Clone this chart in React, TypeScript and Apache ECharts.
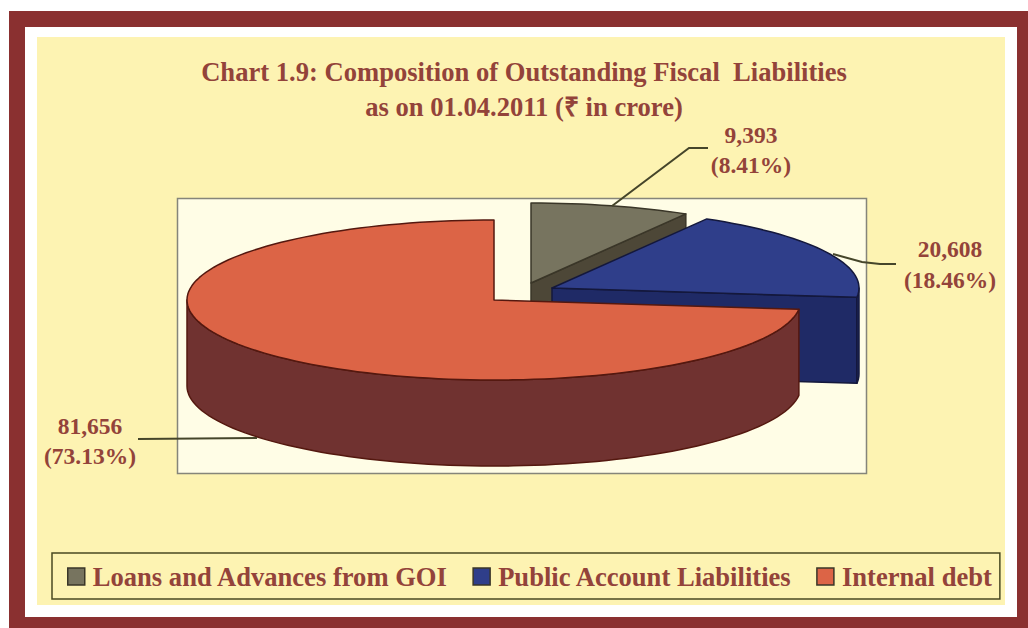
import React, { useEffect, useRef } from "react";
import * as echarts from "echarts";

// Fiscal liabilities, crore of rupees
const categories = ["Loans and Advances from GOI", "Public Account Liabilities", "Internal debt"];
const amounts = [9393, 20608, 81656];
const amountLabels = ["9,393", "20,608", "81,656"];
const topColors = ["#77745f", "#2f3e8a", "#dc6446"];
const wallColors = ["#4d4737", "#1f2a66", "#703230"];
const edgeColors = ["#3a3628", "#14183c", "#54180f"];

const TEXT = "#93433a";
const SERIF = '"Liberation Serif", serif';
const RX = 307;
const RY = 80;
const DEPTH = 86;
// Apex of each exploded slice on the page
const apexes = [[531, 283], [552, 288], [494, 300]];
const labelSpots = [[751, 135], [950, 249], [90, 426]];
const labelLeading = [30, 31, 30];
const leaders = [
  [[612, 206], [689, 148], [708, 148]],
  [[833, 254], [862, 262], [880, 264], [896, 264]],
  [[138, 439], [257, 438]],
];

const total = amounts.reduce((a, b) => a + b, 0);

function rim(i: number, deg: number, drop = 0): number[] {
  const r = (deg * Math.PI) / 180;
  return [apexes[i][0] + RX * Math.sin(r), apexes[i][1] - RY * Math.cos(r) + drop];
}

function arc(i: number, from: number, to: number, drop = 0): number[][] {
  const pts: number[][] = [];
  const steps = Math.max(2, Math.ceil(Math.abs(to - from) / 2));
  for (let s = 0; s <= steps; s++) pts.push(rim(i, from + ((to - from) * s) / steps, drop));
  return pts;
}

function sliceRenderer(i: number) {
  return (_params: unknown, api: any) => {
    const before = amounts.slice(0, i).reduce((a, b) => a + b, 0);
    const start = (before / total) * 360;
    const end = start + (api.value(0) / total) * 360;
    const apex = apexes[i];
    const solid = (points: number[][], fill: string) => ({
      type: "polygon",
      shape: { points },
      style: { fill, stroke: edgeColors[i], lineWidth: 1.5, lineJoin: "round" },
    });
    const children: any[] = [];

    // The cut face turned toward the viewer
    if (end < 180) {
      const p = rim(i, end);
      children.push(
        solid([apex, p, [p[0], p[1] + DEPTH], [apex[0], apex[1] + DEPTH]], wallColors[i]),
      );
    }
    // Outer wall, only the stretch on the near half of the rim
    const wallFrom = Math.max(start, 90);
    const wallTo = Math.min(end, 270);
    if (wallTo > wallFrom) {
      children.push(
        solid([...arc(i, wallFrom, wallTo), ...arc(i, wallTo, wallFrom, DEPTH)], wallColors[i]),
      );
    }
    children.push(solid([apex, ...arc(i, start, end)], topColors[i]));

    // Leader and value label
    children.push({
      type: "polyline",
      shape: { points: leaders[i] },
      style: { fill: "none", stroke: "#45452a", lineWidth: 2 },
    });
    const share = ((api.value(0) / total) * 100).toFixed(2);
    children.push({
      type: "text",
      style: {
        text: `${amountLabels[i]}\n(${share}%)`,
        x: labelSpots[i][0],
        y: labelSpots[i][1] - labelLeading[i] / 2,
        align: "center",
        fill: TEXT,
        font: `bold 23.5px ${SERIF}`,
        lineHeight: labelLeading[i],
      },
    });
    return { type: "group", children };
  };
}

export default function App() {
  const ref = useRef<HTMLDivElement>(null);

  useEffect(() => {
    document.body.style.margin = "0";
    const chart = echarts.init(ref.current!, null, { renderer: "svg" });
    chart.setOption({
      animation: false,
      backgroundColor: "#ffffff",
      title: {
        text: "Chart 1.9: Composition of Outstanding Fiscal  Liabilities\nas on 01.04.2011 (₹ in crore)",
        left: 519,
        top: 49,
        textAlign: "center",
        textStyle: {
          color: TEXT,
          fontFamily: SERIF,
          fontWeight: "bold",
          fontSize: 26.6,
          lineHeight: 35,
        },
      },
      legend: {
        left: 52,
        top: 553,
        padding: [10, 8, 9, 15],
        borderColor: "#4a4a22",
        borderWidth: 1.5,
        itemWidth: 17,
        itemHeight: 17,
        itemGap: 24,
        icon: "rect",
        selectedMode: false,
        itemStyle: { borderColor: "#3a3628", borderWidth: 1.5 },
        data: categories,
        textStyle: {
          color: TEXT,
          fontFamily: SERIF,
          fontWeight: "bold",
          fontSize: 26.6,
          padding: [0, 0, 0, 3],
        },
      },
      graphic: [
        { type: "rect", z: -10, shape: { x: 9, y: 11, width: 1019, height: 617 }, style: { fill: "#8a3030" } },
        { type: "rect", z: -9, shape: { x: 25, y: 27, width: 992, height: 590 }, style: { fill: "#ffffff" } },
        { type: "rect", z: -8, shape: { x: 37, y: 37, width: 968, height: 568 }, style: { fill: "#fdf3b2" } },
        {
          type: "rect",
          z: -7,
          shape: { x: 177.5, y: 198.5, width: 689, height: 275 },
          style: { fill: "#fffde6", stroke: "#85857a", lineWidth: 1.5 },
        },
      ],
      series: categories.map((name, i) => ({
        type: "custom",
        name,
        coordinateSystem: "none",
        itemStyle: { color: topColors[i] },
        data: [[amounts[i]]],
        silent: true,
        renderItem: sliceRenderer(i),
      })),
    });
    return () => chart.dispose();
  }, []);

  return <div ref={ref} style={{ width: 1028, height: 628 }} />;
}
